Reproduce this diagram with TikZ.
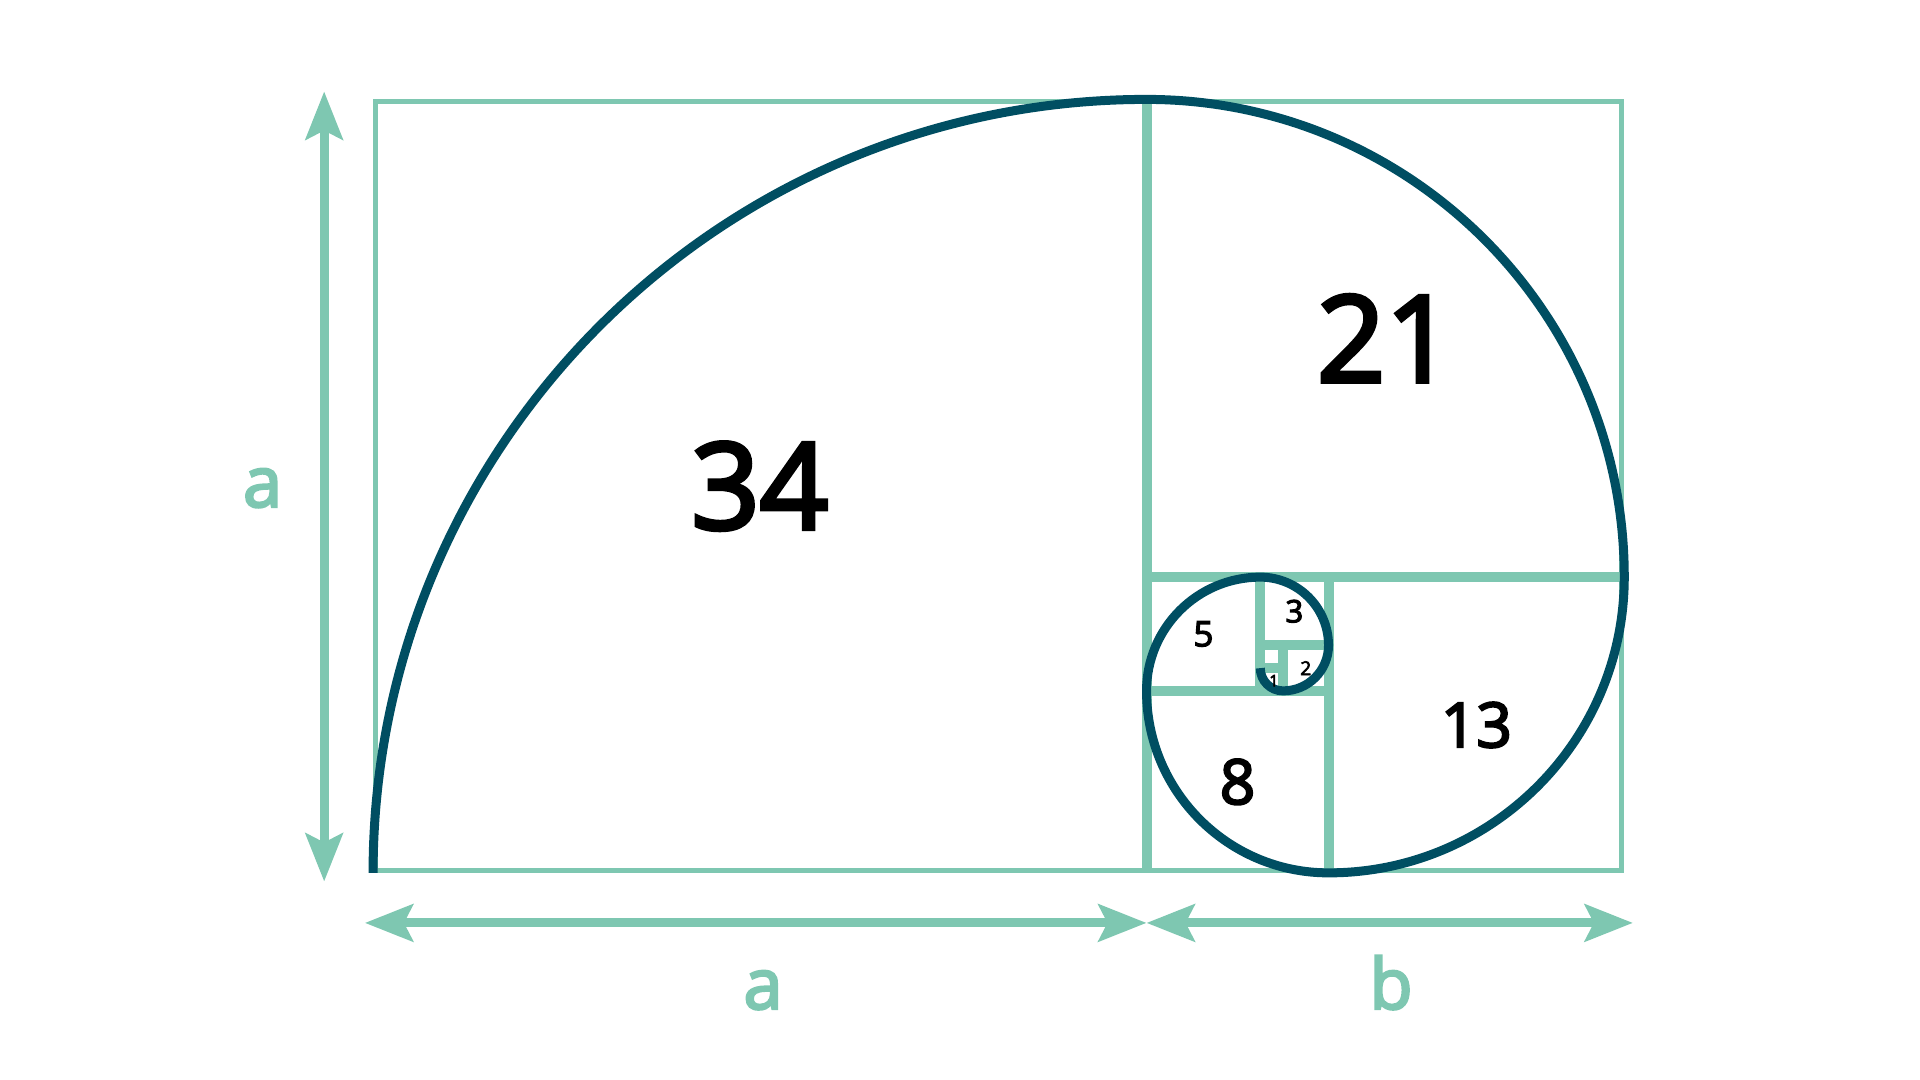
\documentclass[tikz,border=0pt]{standalone}
\usepackage{fontspec}
\setmainfont{Open Sans}[BoldFont={Open Sans}, BoldFeatures={FakeBold=3.5}]
\usepackage{tikz}
\usetikzlibrary{arrows.meta, calc, positioning}

\definecolor{mint}{RGB}{126,199,177}
\definecolor{petrol}{RGB}{0,78,98}

\tikzset{
	sq/.style={draw=mint, line width=5pt},
	spiral/.style={draw=petrol, line width=9pt},
	dimline/.style={draw=mint, line width=9pt,
		arrows={Stealth[length=48pt,width=37pt,inset=9pt]-Stealth[length=48pt,width=37pt,inset=9pt]}},
	dimlabel/.style={text=mint, font=\fontsize{70}{70}\selectfont\bfseries, anchor=base},
}

\begin{document}
\begin{tikzpicture}[x=22.75pt, y=22.75pt]
	\useasboundingbox (-16.40,-9.10) rectangle (68.0,38.37);
	% squares, stroked inside their edges
	\foreach \x/\y/\s in {0/0/34, 34/13/21, 42/0/13, 34/0/8, 34/8/5, 39/10/3, 40/8/2, 39/8/1, 39/9/1} {
			\draw[sq] ([shift={(2.5pt,2.5pt)}]\x,\y) rectangle ([shift={(-2.5pt,-2.5pt)}]{\x+\s},{\y+\s});
		}
	% golden spiral
	\draw[spiral] (0,0) \foreach \r [count=\i] in {34,21,13,8,5,3,2,1} {
			arc[start angle={180-(\i-1)*90}, delta angle=-90, radius=\r]
		};
	% numbers
	\foreach \x/\y/\lbl/\fs in {17/17/34/120, 44.5/23.5/21/120, 48.5/6.5/13/62, 38/4/8/62, 36.5/10.5/5/35, 40.5/11.5/3/31, 41/9/2/19, 39.6/8.45/1/16} {
			\node[font=\fontsize{\fs}{\fs}\selectfont\bfseries, inner sep=0pt] (n\lbl) at (\x,\y) {\lbl};
		}
	% dimensions
	\coordinate (vtop) at (-2.15,34.35);
	\coordinate (vbot) at (-2.15,-0.38);
	\coordinate (hleft) at (-0.36,-2.2);
	\coordinate (hmid) at (34,-2.2);
	\coordinate (hright) at (55.38,-2.2);
	\draw[dimline] (vbot) -- (vtop);
	\draw[dimline] (hleft) -- (hmid);
	\draw[dimline] (hmid) -- (hright);
	\node[dimlabel] (la) at (-4.86,16.09) {a};
	\node[dimlabel] (ba) at (17.14,-5.98) {a};
	\node[dimlabel] (bb) at (44.75,-5.98) {b};
\end{tikzpicture}
\end{document}
